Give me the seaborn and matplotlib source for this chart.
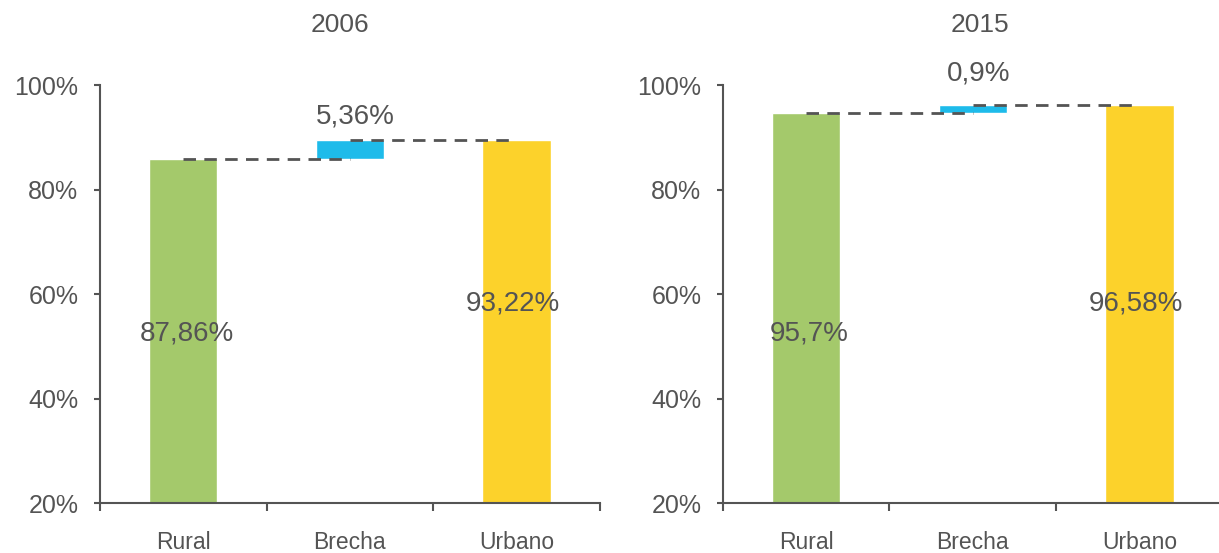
import matplotlib
matplotlib.use("Agg")
import matplotlib.pyplot as plt
import seaborn as sns

# data
years = ["2006", "2015"]
categories = ["Rural", "Brecha", "Urbano"]
rural_values = [85.8, 94.6]      # bar heights as drawn
urban_values = [89.5, 96.2]
rural_labels = ["87,86%", "95,7%"]
gap_labels = ["5,36%", "0,9%"]
urban_labels = ["93,22%", "96,58%"]
y_ticks = [20, 40, 60, 80, 100]

colors = {"Rural": "#A4C96B", "Brecha": "#1EBBEA", "Urbano": "#FCD22B"}
grey = "#545454"

sns.set_theme(style="white")
plt.rcParams["font.family"] = ["Liberation Sans", "DejaVu Sans"]

fig = plt.figure(figsize=(12.19, 5.53), dpi=100)
ax_pos = [[0.082, 0.0904, 0.410, 0.7556], [0.593, 0.0904, 0.410, 0.7556]]
title_x = [340 / 1219, 980 / 1219]
gap_offsets = [17, 23]

for i, year in enumerate(years):
    ax = fig.add_axes(ax_pos[i])
    rural = rural_values[i]
    urban = urban_values[i]

    # full bars
    sns.barplot(x=["Rural", "Urbano"], y=[rural, urban], order=categories,
                hue=["Rural", "Urbano"], palette=colors, legend=False,
                width=0.41, saturation=1, ax=ax, zorder=2)
    # floating gap bar
    sns.barplot(x=["Brecha"], y=[urban - rural], bottom=rural, order=categories,
                color=colors["Brecha"], width=0.41, saturation=1, ax=ax, zorder=2)

    # connector lines
    ax.plot([0, 1], [rural, rural], ls=(0, (4.5, 3)), color=grey, lw=2, zorder=3)
    ax.plot([1, 2], [urban, urban], ls=(0, (4.5, 3)), color=grey, lw=2, zorder=3)

    ax.text(0.02, 52.5, rural_labels[i], ha="center", va="center", fontsize=20, color=grey)
    ax.text(1.98, 58.2, urban_labels[i], ha="center", va="center", fontsize=20, color=grey)
    ax.annotate(gap_labels[i], (1, urban), xytext=(4, gap_offsets[i]),
                textcoords="offset points", ha="center", va="center",
                fontsize=20, color=grey)

    ax.set_xlim(-0.5, 2.5)
    ax.set_ylim(20, 100)
    ax.set_yticks(y_ticks)
    ax.set_yticklabels([f"{t}%" for t in y_ticks])
    ax.set_xticks([0, 1, 2])
    ax.set_xticklabels(categories)
    ax.set_xticks([-0.5, 0.5, 1.5, 2.5], minor=True)
    ax.set_xlabel("")
    ax.set_ylabel("")

    ax.tick_params(axis="y", which="major", direction="out", length=4.5, width=1.5,
                   color=grey, labelsize=18, labelcolor=grey, pad=11, left=True)
    ax.tick_params(axis="x", which="major", length=0, labelsize=16.5,
                   labelcolor=grey, pad=20)
    ax.tick_params(axis="x", which="minor", direction="out", length=6, width=1.5,
                   color=grey, bottom=True)

    sns.despine(ax=ax)
    for side in ["left", "bottom"]:
        ax.spines[side].set_color(grey)
        ax.spines[side].set_linewidth(1.5)

    fig.text(title_x[i], 1 - 25 / 553, year, ha="center", va="center",
             fontsize=19, color=grey)

fig.savefig("out.png", dpi=100)
